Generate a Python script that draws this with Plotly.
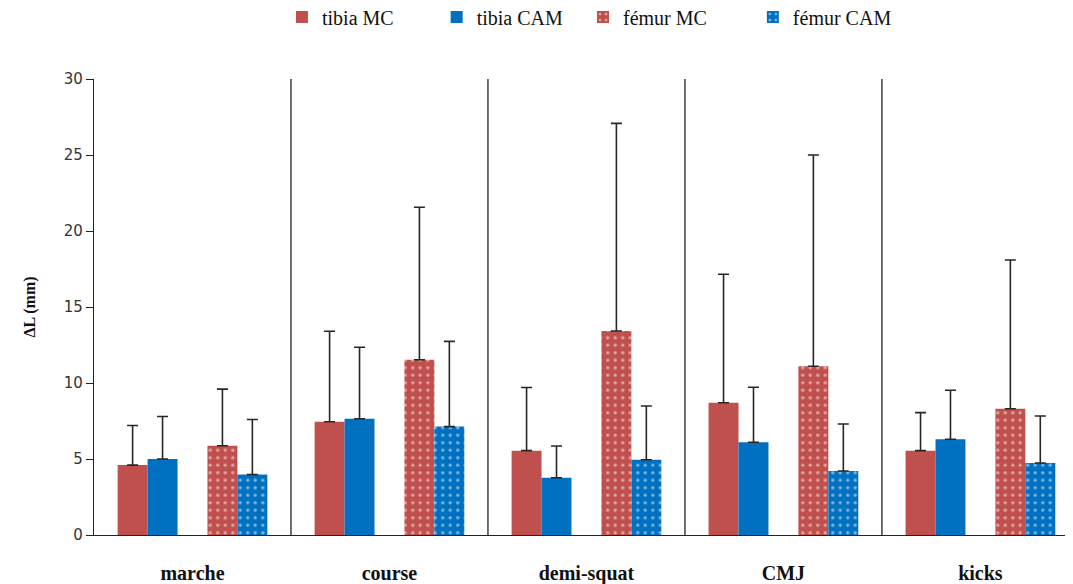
import plotly.graph_objects as go

categories = ["marche", "course", "demi-squat", "CMJ", "kicks"]
series_names = ["tibia MC", "tibia CAM", "fémur MC", "fémur CAM"]
tibia_mc = [4.6, 7.45, 5.55, 8.7, 5.55]
tibia_mc_top = [7.2, 13.4, 9.7, 17.15, 8.05]
tibia_cam = [5.0, 7.65, 3.77, 6.1, 6.3]
tibia_cam_top = [7.8, 12.35, 5.86, 9.72, 9.52]
femur_mc = [5.87, 11.53, 13.42, 11.1, 8.31]
femur_mc_top = [9.6, 21.56, 27.08, 25.0, 18.09]
femur_cam = [3.98, 7.13, 4.95, 4.21, 4.74]
femur_cam_top = [7.6, 12.74, 8.49, 7.3, 7.83]

RED = "#C0504D"
BLUE = "#0070C0"
w = 0.152

series = [
    (series_names[0], tibia_mc, tibia_mc_top, RED, False, -2.5 * w, "legend", 0.192),
    (series_names[1], tibia_cam, tibia_cam_top, BLUE, False, -1.5 * w, "legend2", 0.350),
    (series_names[2], femur_mc, femur_mc_top, RED, True, 0.5 * w, "legend3", 0.4995),
    (series_names[3], femur_cam, femur_cam_top, BLUE, True, 1.5 * w, "legend4", 0.673),
]

fig = go.Figure()
legends = {}
for name, vals, tops, col, dotted, off, leg, lx in series:
    marker = dict(color=col, line=dict(width=0))
    if dotted:
        marker["pattern"] = dict(shape=".", fgcolor="white", bgcolor=col,
                                 fillmode="overlay", size=7.5, solidity=0.16)
    fig.add_trace(go.Bar(
        x=categories, y=vals, name=name, width=w, offset=off,
        marker=marker, legend=leg,
        error_y=dict(type="data", symmetric=False,
                     array=[t - v for t, v in zip(tops, vals)],
                     arrayminus=[0] * len(vals),
                     color="#262626", thickness=1.6, width=5.5),
    ))
    legends[leg] = dict(orientation="h", x=lx, xanchor="left", y=1.136, yanchor="middle",
                        font=dict(family="Liberation Serif", size=20, color="#111111"),
                        itemwidth=30, bgcolor="rgba(0,0,0,0)")

shapes = []
for i in range(len(categories) - 1):
    shapes.append(dict(type="line", xref="x", yref="y", x0=i + 0.5, x1=i + 0.5,
                       y0=0, y1=30, line=dict(color="#222222", width=1.3)))

fig.update_layout(
    width=1073, height=584,
    barmode="overlay",
    plot_bgcolor="white", paper_bgcolor="white",
    margin=dict(l=86, r=8, t=71, b=57, autoexpand=False),
    shapes=shapes,
    showlegend=True,
    xaxis=dict(range=[-0.5, 4.47], showline=True, linecolor="#222222", linewidth=1.3,
               ticks="", showgrid=False, automargin=False, ticklabelstandoff=20,
               tickfont=dict(family="Liberation Serif", size=20, color="#111111",
                             weight="bold")),
    yaxis=dict(range=[0, 30], dtick=5, showline=True, linecolor="#222222", linewidth=1.3,
               ticks="outside", ticklen=7, tickcolor="#222222", showgrid=False,
               zeroline=False, automargin=False,
               tickfont=dict(family="DejaVu Sans", size=15, color="#333333"),
               title=dict(text="ΔL (mm)", standoff=24,
                          font=dict(family="Liberation Serif", size=16, color="#111111",
                                    weight="bold"))),
    **legends,
)

fig.write_html("out.html")
